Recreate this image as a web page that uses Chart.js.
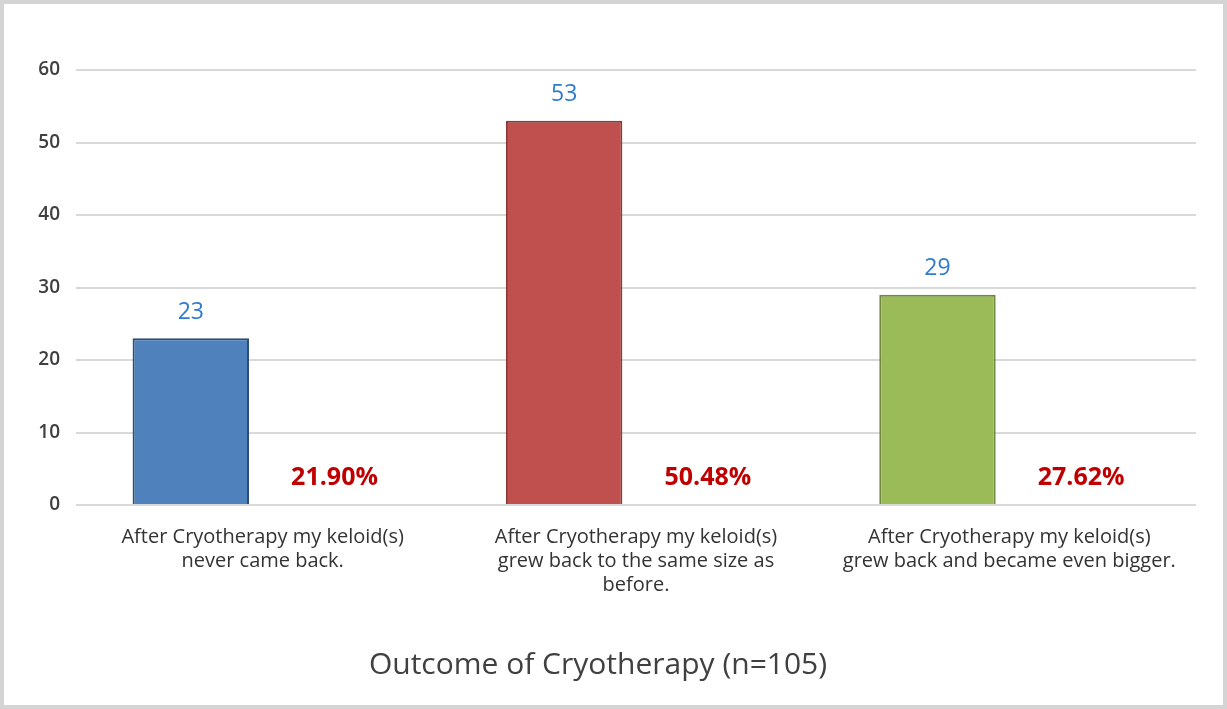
<!DOCTYPE html>
<html>
<head>
<meta charset="utf-8">
<script src="https://cdn.jsdelivr.net/npm/chart.js@4.4.1/dist/chart.umd.min.js"></script>
<style>
html,body{margin:0;padding:0;background:#fff;}
#wrap{width:1227px;height:709px;position:relative;}
canvas{display:block;}
</style>
</head>
<body>
<div id="wrap"><canvas id="c" width="1227" height="709"></canvas></div>
<script>
const categories = [
  ["After Cryotherapy my keloid(s)", "never came back."],
  ["After Cryotherapy my keloid(s)", "grew back to the same size as", "before."],
  ["After Cryotherapy my keloid(s)", "grew back and became even bigger."]
];
const counts = [23, 53, 29];
const percents = [21.90, 50.48, 27.62];
const yTicks = [0, 10, 20, 30, 40, 50, 60];
const titleText = "Outcome of Cryotherapy (n=105)";

const fillColors = ["#4f81bd", "#c0504d", "#9bbb59"];
const borderColors = ["#2c4d75", "#8c3836", "#71893f"];
const FONT = "'Open Sans', 'Noto Sans', sans-serif";

const frame = {
  id: 'frame',
  beforeDraw(chart) {
    const ctx = chart.ctx;
    ctx.save();
    ctx.fillStyle = '#fff';
    ctx.fillRect(0, 0, chart.width, chart.height);
    ctx.strokeStyle = '#d4d4d4';
    ctx.lineWidth = 4;
    ctx.strokeRect(2, 2, chart.width - 4, chart.height - 4);
    ctx.restore();
  }
};

const labels = {
  id: 'labels',
  afterDatasetsDraw(chart) {
    const ctx = chart.ctx;
    ctx.save();
    ctx.textAlign = 'center';
    ctx.textBaseline = 'middle';
    const m0 = chart.getDatasetMeta(0);
    ctx.font = "23px " + FONT;
    ctx.fillStyle = '#2e7bcf';
    m0.data.forEach((bar, i) => {
      ctx.fillText(String(counts[i]), bar.x, bar.y - 26);
    });
    const m1 = chart.getDatasetMeta(1);
    const base = chart.scales.y.getPixelForValue(0);
    ctx.font = "bold 25px " + FONT;
    ctx.fillStyle = '#c00000';
    m1.data.forEach((bar, i) => {
      ctx.fillText(percents[i].toFixed(2) + '%', bar.x, base - 27);
    });
    ctx.restore();
  }
};

new Chart(document.getElementById('c'), {
  type: 'bar',
  data: {
    labels: categories,
    datasets: [
      {
        label: 'Count',
        data: counts,
        backgroundColor: fillColors,
        borderColor: borderColors,
        borderWidth: 2,
        borderSkipped: 'bottom',
        categoryPercentage: 0.77,
        barPercentage: 0.81
      },
      {
        label: 'Percent',
        data: percents.map(() => 0),
        backgroundColor: 'rgba(0,0,0,0)',
        borderWidth: 0,
        categoryPercentage: 0.77,
        barPercentage: 0.81
      }
    ]
  },
  options: {
    responsive: false,
    animation: false,
    devicePixelRatio: 1,
    layout: { padding: { left: 0, right: 31, top: 70, bottom: 0 } },
    plugins: {
      legend: { display: false },
      tooltip: { enabled: false },
      title: {
        display: true,
        text: titleText,
        position: 'bottom',
        color: '#404040',
        font: { family: FONT, size: 30, weight: 'normal' },
        padding: { top: 12, bottom: 26 }
      }
    },
    scales: {
      x: {
        grid: { display: false, drawTicks: false },
        border: { display: false },
        ticks: {
          color: '#333333',
          font: { family: FONT, size: 20, lineHeight: 1.2 },
          padding: 20,
          maxRotation: 0,
          autoSkip: false
        },
        afterFit(scale) { scale.height = 130; }
      },
      y: {
        min: 0,
        max: 60,
        afterBuildTicks(scale) { scale.ticks = yTicks.map(v => ({ value: v })); },
        grid: { color: '#d9d9d9', lineWidth: 2, drawTicks: false },
        border: { display: false },
        ticks: {
          color: '#404040',
          font: { family: FONT, size: 19, weight: '600' },
          padding: 16
        },
        afterFit(scale) { scale.width = 76; }
      }
    }
  },
  plugins: [frame, labels]
});
</script>
</body>
</html>
